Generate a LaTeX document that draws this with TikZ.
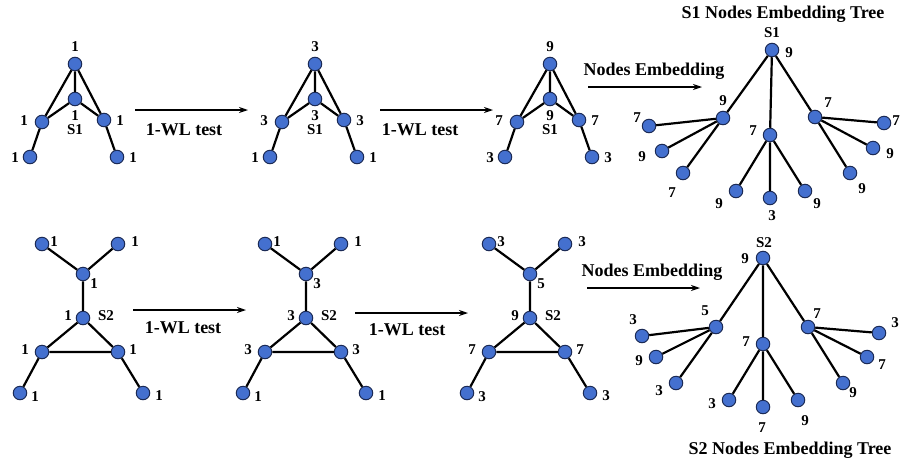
\documentclass[tikz,border=0pt]{standalone}
\usepackage{fontspec}
\setmainfont{Liberation Serif}
\usetikzlibrary{arrows.meta}
\definecolor{vblue}{HTML}{4470CF}
\definecolor{vrim}{HTML}{1B2A55}
\tikzset{
  vtx/.style={circle,fill=vblue,draw=vrim,line width=1pt,minimum size=13.5pt,inner sep=0pt},
  edg/.style={line width=2.2pt,black},
  num/.style={font=\fontsize{15}{15}\selectfont\bfseries,inner sep=0pt},
  ttl/.style={font=\fontsize{18}{18}\selectfont\bfseries,inner sep=0pt},
  flow/.style={line width=1.4pt,-{Stealth[length=9pt,width=6pt]}},
}
\begin{document}
\begin{tikzpicture}[x=1pt,y=-1pt]
\useasboundingbox (0,0) rectangle (901,464);

% ---------- upper row: graph S1 ----------
\newcommand{\sgraphone}[8]{%
  % #1 prefix, #2 x-offset, #3..#8 labels top, mid, left, right, bl, br
  \begin{scope}[xshift=#2]
  \node[vtx] (#1t) at (75,64) {};
  \node[vtx] (#1m) at (75,99) {};
  \node[vtx] (#1l) at (42,122) {};
  \node[vtx] (#1r) at (104,120) {};
  \node[vtx] (#1a) at (30,157) {};
  \node[vtx] (#1b) at (117,157) {};
  \draw[edg] (#1t) -- (#1m) (#1t) -- (#1l) (#1t) -- (#1r)
             (#1m) -- (#1l) (#1m) -- (#1r) (#1l) -- (#1a) (#1r) -- (#1b);
  \node[num] (#1tn) at (75,47) {#3};
  \node[num] (#1mn) at (75,116) {#4};
  \node[num] (#1s) at (75,130) {S1};
  \node[num] (#1ln) at (24,121) {#5};
  \node[num] (#1rn) at (120,121) {#6};
  \node[num] (#1an) at (15,158) {#7};
  \node[num] (#1bn) at (133,158) {#8};
  \end{scope}}
\sgraphone{a}{0pt}{1}{1}{1}{1}{1}{1}
\sgraphone{b}{240pt}{3}{3}{3}{3}{1}{1}
\sgraphone{c}{475pt}{9}{9}{7}{7}{3}{3}

\node[ttl] (w1) at (184,130) {1-WL test};
\coordinate (p1) at (135,110); \coordinate (q1) at (248,110);
\draw[flow] (p1) -- (q1);
\node[ttl] (w2) at (420,130) {1-WL test};
\coordinate (p2) at (380,110); \coordinate (q2) at (493,110);
\draw[flow] (p2) -- (q2);
\node[ttl] (e1) at (654,71) {Nodes Embedding};
\coordinate (p3) at (588,87); \coordinate (q3) at (702,87);
\draw[flow,line width=1.1pt] (p3) -- (q3);

% ---------- upper tree ----------
\node[ttl] (t1) at (783,14) {S1 Nodes Embedding Tree};
\node[vtx] (r1) at (772,50) {};
\node[num] (r1s) at (772,33) {S1};
\node[num] (r1n) at (789,53) {9};
\node[vtx] (u1) at (723,118) {};
\node[vtx] (u2) at (770,135) {};
\node[vtx] (u3) at (815,117) {};
\node[num] (u1n) at (723,101) {9};
\node[num] (u2n) at (753,131) {7};
\node[num] (u3n) at (828,103) {7};
\node[vtx] (u11) at (649,126) {};
\node[vtx] (u12) at (662,151) {};
\node[vtx] (u13) at (683,173) {};
\node[num] (u11n) at (637,118) {7};
\node[num] (u12n) at (642,157) {9};
\node[num] (u13n) at (672,193) {7};
\node[vtx] (u21) at (736,191) {};
\node[vtx] (u22) at (770,198) {};
\node[vtx] (u23) at (805,191) {};
\node[num] (u21n) at (719,204) {9};
\node[num] (u22n) at (772,216) {3};
\node[num] (u23n) at (817,204) {9};
\node[vtx] (u31) at (884,123) {};
\node[vtx] (u32) at (873,148) {};
\node[vtx] (u33) at (850,173) {};
\node[num] (u31n) at (896,121) {7};
\node[num] (u32n) at (890,154) {9};
\node[num] (u33n) at (862,189) {9};
\draw[edg] (r1) -- (u1) (r1) -- (u2) (r1) -- (u3)
  (u1) -- (u11) (u1) -- (u12) (u1) -- (u13)
  (u2) -- (u21) (u2) -- (u22) (u2) -- (u23)
  (u3) -- (u31) (u3) -- (u32) (u3) -- (u33);

% ---------- lower row: graph S2 ----------
\newcommand{\sgraphtwo}[9]{%
  % #1 prefix, #2 x-offset, #3..#9 labels tl, tr, joint, centre, left, right, bottom
  \begin{scope}[xshift=#2]
  \node[vtx] (#1p) at (42,244) {};
  \node[vtx] (#1q) at (118,244) {};
  \node[vtx] (#1j) at (83,274) {};
  \node[vtx] (#1c) at (83,318) {};
  \node[vtx] (#1l) at (42,352) {};
  \node[vtx] (#1r) at (118,352) {};
  \node[vtx] (#1a) at (20,393) {};
  \node[vtx] (#1b) at (143,393) {};
  \draw[edg] (#1p) -- (#1j) (#1q) -- (#1j) (#1j) -- (#1c)
             (#1c) -- (#1l) (#1c) -- (#1r) (#1l) -- (#1r)
             (#1l) -- (#1a) (#1r) -- (#1b);
  \node[num] (#1pn) at (54,242) {#3};
  \node[num] (#1qn) at (135,242) {#4};
  \node[num] (#1jn) at (94,284) {#5};
  \node[num] (#1cn) at (68,316) {#6};
  \node[num] (#1s) at (106,316) {S2};
  \node[num] (#1ln) at (25,350) {#7};
  \node[num] (#1rn) at (133,350) {#8};
  \node[num] (#1an) at (35,397) {#9};
  \node[num] (#1bn) at (159,396) {#9};
  \end{scope}}
\sgraphtwo{d}{0pt}{1}{1}{1}{1}{1}{1}{1}
\sgraphtwo{e}{223pt}{1}{1}{3}{3}{3}{3}{1}
\sgraphtwo{f}{447pt}{3}{3}{5}{9}{7}{7}{3}

\node[ttl] (w3) at (183,328) {1-WL test};
\coordinate (p4) at (133,310); \coordinate (q4) at (246,310);
\draw[flow] (p4) -- (q4);
\node[ttl] (w4) at (407,330) {1-WL test};
\coordinate (p5) at (355,313); \coordinate (q5) at (468,313);
\draw[flow] (p5) -- (q5);
\node[ttl] (e2) at (652,272) {Nodes Embedding};
\coordinate (p6) at (587,288); \coordinate (q6) at (700,288);
\draw[flow,line width=1.1pt] (p6) -- (q6);

% ---------- lower tree ----------
\node[ttl] (t2) at (790,450) {S2 Nodes Embedding Tree};
\node[vtx] (r2) at (763,258) {};
\node[num] (r2s) at (764,243) {S2};
\node[num] (r2n) at (745,259) {9};
\node[vtx] (v1) at (716,327) {};
\node[vtx] (v2) at (763,344) {};
\node[vtx] (v3) at (808,327) {};
\node[num] (v1n) at (705,311) {5};
\node[num] (v2n) at (746,342) {7};
\node[num] (v3n) at (817,314) {7};
\node[vtx] (v11) at (642,336) {};
\node[vtx] (v12) at (656,357) {};
\node[vtx] (v13) at (676,383) {};
\node[num] (v11n) at (633,320) {3};
\node[num] (v12n) at (639,361) {9};
\node[num] (v13n) at (659,391) {3};
\node[vtx] (v21) at (729,400) {};
\node[vtx] (v22) at (763,407) {};
\node[vtx] (v23) at (798,400) {};
\node[num] (v21n) at (712,404) {3};
\node[num] (v22n) at (762,428) {7};
\node[num] (v23n) at (805,421) {9};
\node[vtx] (v31) at (879,333) {};
\node[vtx] (v32) at (867,357) {};
\node[vtx] (v33) at (843,383) {};
\node[num] (v31n) at (895,323) {3};
\node[num] (v32n) at (882,365) {7};
\node[num] (v33n) at (853,393) {9};
\draw[edg] (r2) -- (v1) (r2) -- (v2) (r2) -- (v3)
  (v1) -- (v11) (v1) -- (v12) (v1) -- (v13)
  (v2) -- (v21) (v2) -- (v22) (v2) -- (v23)
  (v3) -- (v31) (v3) -- (v32) (v3) -- (v33);
\end{tikzpicture}
\end{document}
